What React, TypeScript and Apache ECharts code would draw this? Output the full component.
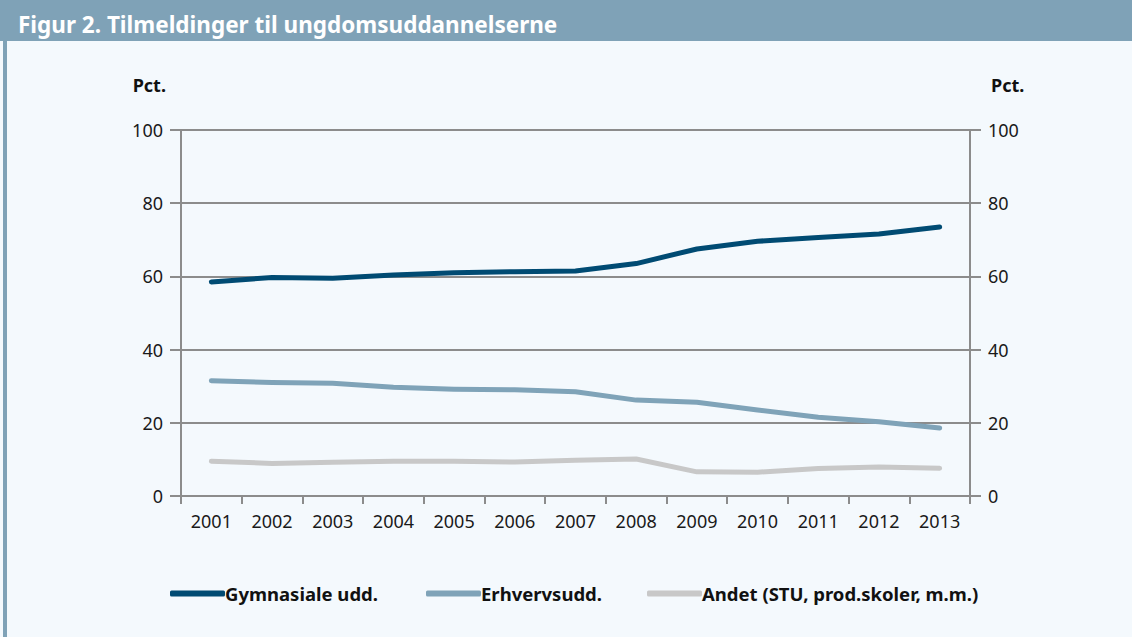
import React, { useEffect, useRef } from "react";
import * as echarts from "echarts";

const years = ["2001", "2002", "2003", "2004", "2005", "2006", "2007", "2008", "2009", "2010", "2011", "2012", "2013"];
const gymnasiale = [58.5, 59.7, 59.5, 60.4, 61.0, 61.3, 61.5, 63.5, 67.5, 69.6, 70.6, 71.6, 73.5];
const erhverv = [31.5, 31.0, 30.8, 29.7, 29.2, 29.0, 28.5, 26.2, 25.6, 23.5, 21.5, 20.3, 18.6];
const andet = [9.5, 8.9, 9.2, 9.5, 9.5, 9.3, 9.8, 10.1, 6.6, 6.5, 7.5, 7.9, 7.6];
const yTicks = [0, 20, 40, 60, 80, 100];
const seriesNames = ["Gymnasiale udd.", "Erhvervsudd.", "Andet (STU, prod.skoler, m.m.)"];
const titleText = "Figur 2. Tilmeldinger til ungdomsuddannelserne";
const unitText = "Pct.";

const colors = ["#004b73", "#7fa3b8", "#c8c8c8"];
const FONT = "'Noto Sans', sans-serif";
const BG = "#f4f9fd";
const BAR = "#7fa2b7";
const AXIS = "#8c8c8c";

export default function App() {
  const ref = useRef<HTMLDivElement>(null);
  useEffect(() => {
    if (!ref.current) return;
    const chart = echarts.init(ref.current, undefined, { renderer: "svg" });
    const dataSets = [gymnasiale, erhverv, andet];
    const yAxisCommon = {
      type: "value",
      min: yTicks[0],
      max: yTicks[yTicks.length - 1],
      interval: 20,
      axisLine: { show: true, lineStyle: { color: AXIS, width: 2 } },
      axisTick: { show: true, length: 11, lineStyle: { color: AXIS, width: 2 } },
      axisLabel: { fontFamily: FONT, fontSize: 18, color: "#1a1a1a", margin: 18 },
    };
    const legendLefts = [165, 421, 642];
    chart.setOption({
      animation: false,
      backgroundColor: BG,
      textStyle: { fontFamily: FONT },
      grid: { left: 181, right: 162, top: 130, bottom: 141, containLabel: false },
      legend: seriesNames.map((n, i) => ({
        data: [n],
        left: legendLefts[i],
        top: 579,
        icon: "roundRect",
        itemWidth: 55,
        itemHeight: 6,
        itemGap: 4,
        textStyle: { fontFamily: FONT, fontSize: 18.5, fontWeight: "bold", color: "#111", padding: [0, 0, 0, -5] },
        selectedMode: false,
      })),
      xAxis: {
        type: "category",
        data: years,
        boundaryGap: true,
        axisLine: { show: true, lineStyle: { color: AXIS, width: 2 } },
        axisTick: { show: true, length: 8, lineStyle: { color: AXIS, width: 2 } },
        axisLabel: { fontFamily: FONT, fontSize: 18, color: "#1a1a1a", margin: 16 },
        splitLine: { show: false },
      },
      yAxis: [
        {
          ...yAxisCommon,
          position: "left",
          splitLine: { show: true, lineStyle: { color: AXIS, width: 2 } },
        },
        {
          ...yAxisCommon,
          position: "right",
          splitLine: { show: false },
        },
      ],
      series: seriesNames.map((n, i) => ({
        name: n,
        type: "line",
        data: dataSets[i],
        yAxisIndex: 0,
        showSymbol: false,
        symbol: "none",
        itemStyle: { color: colors[i] },
        lineStyle: { color: colors[i], width: 5, cap: "round", join: "round" },
        z: 10 - i,
      })),
      graphic: [
        { type: "rect", left: 0, top: 0, shape: { x: 0, y: 0, width: 1132, height: 41 }, style: { fill: BAR } },
        { type: "rect", left: 3, top: 41, shape: { x: 0, y: 0, width: 4, height: 596 }, style: { fill: BAR } },
        {
          type: "text",
          x: 18,
          y: 24,
          style: { text: titleText, fill: "#ffffff", font: `bold 22.5px ${FONT}`, textVerticalAlign: "middle" },
        },
        {
          type: "text",
          x: 166,
          y: 85,
          style: { text: unitText, fill: "#111", font: `bold 18px ${FONT}`, textAlign: "right", textVerticalAlign: "middle" },
        },
        {
          type: "text",
          x: 991,
          y: 85,
          style: { text: unitText, fill: "#111", font: `bold 18px ${FONT}`, textAlign: "left", textVerticalAlign: "middle" },
        },
      ],
    });
    return () => chart.dispose();
  }, []);
  return (
    <div style={{ position: "absolute", left: 0, top: 0, width: 1132, height: 637, background: BG }}>
      <div ref={ref} style={{ width: 1132, height: 637 }} />
    </div>
  );
}
